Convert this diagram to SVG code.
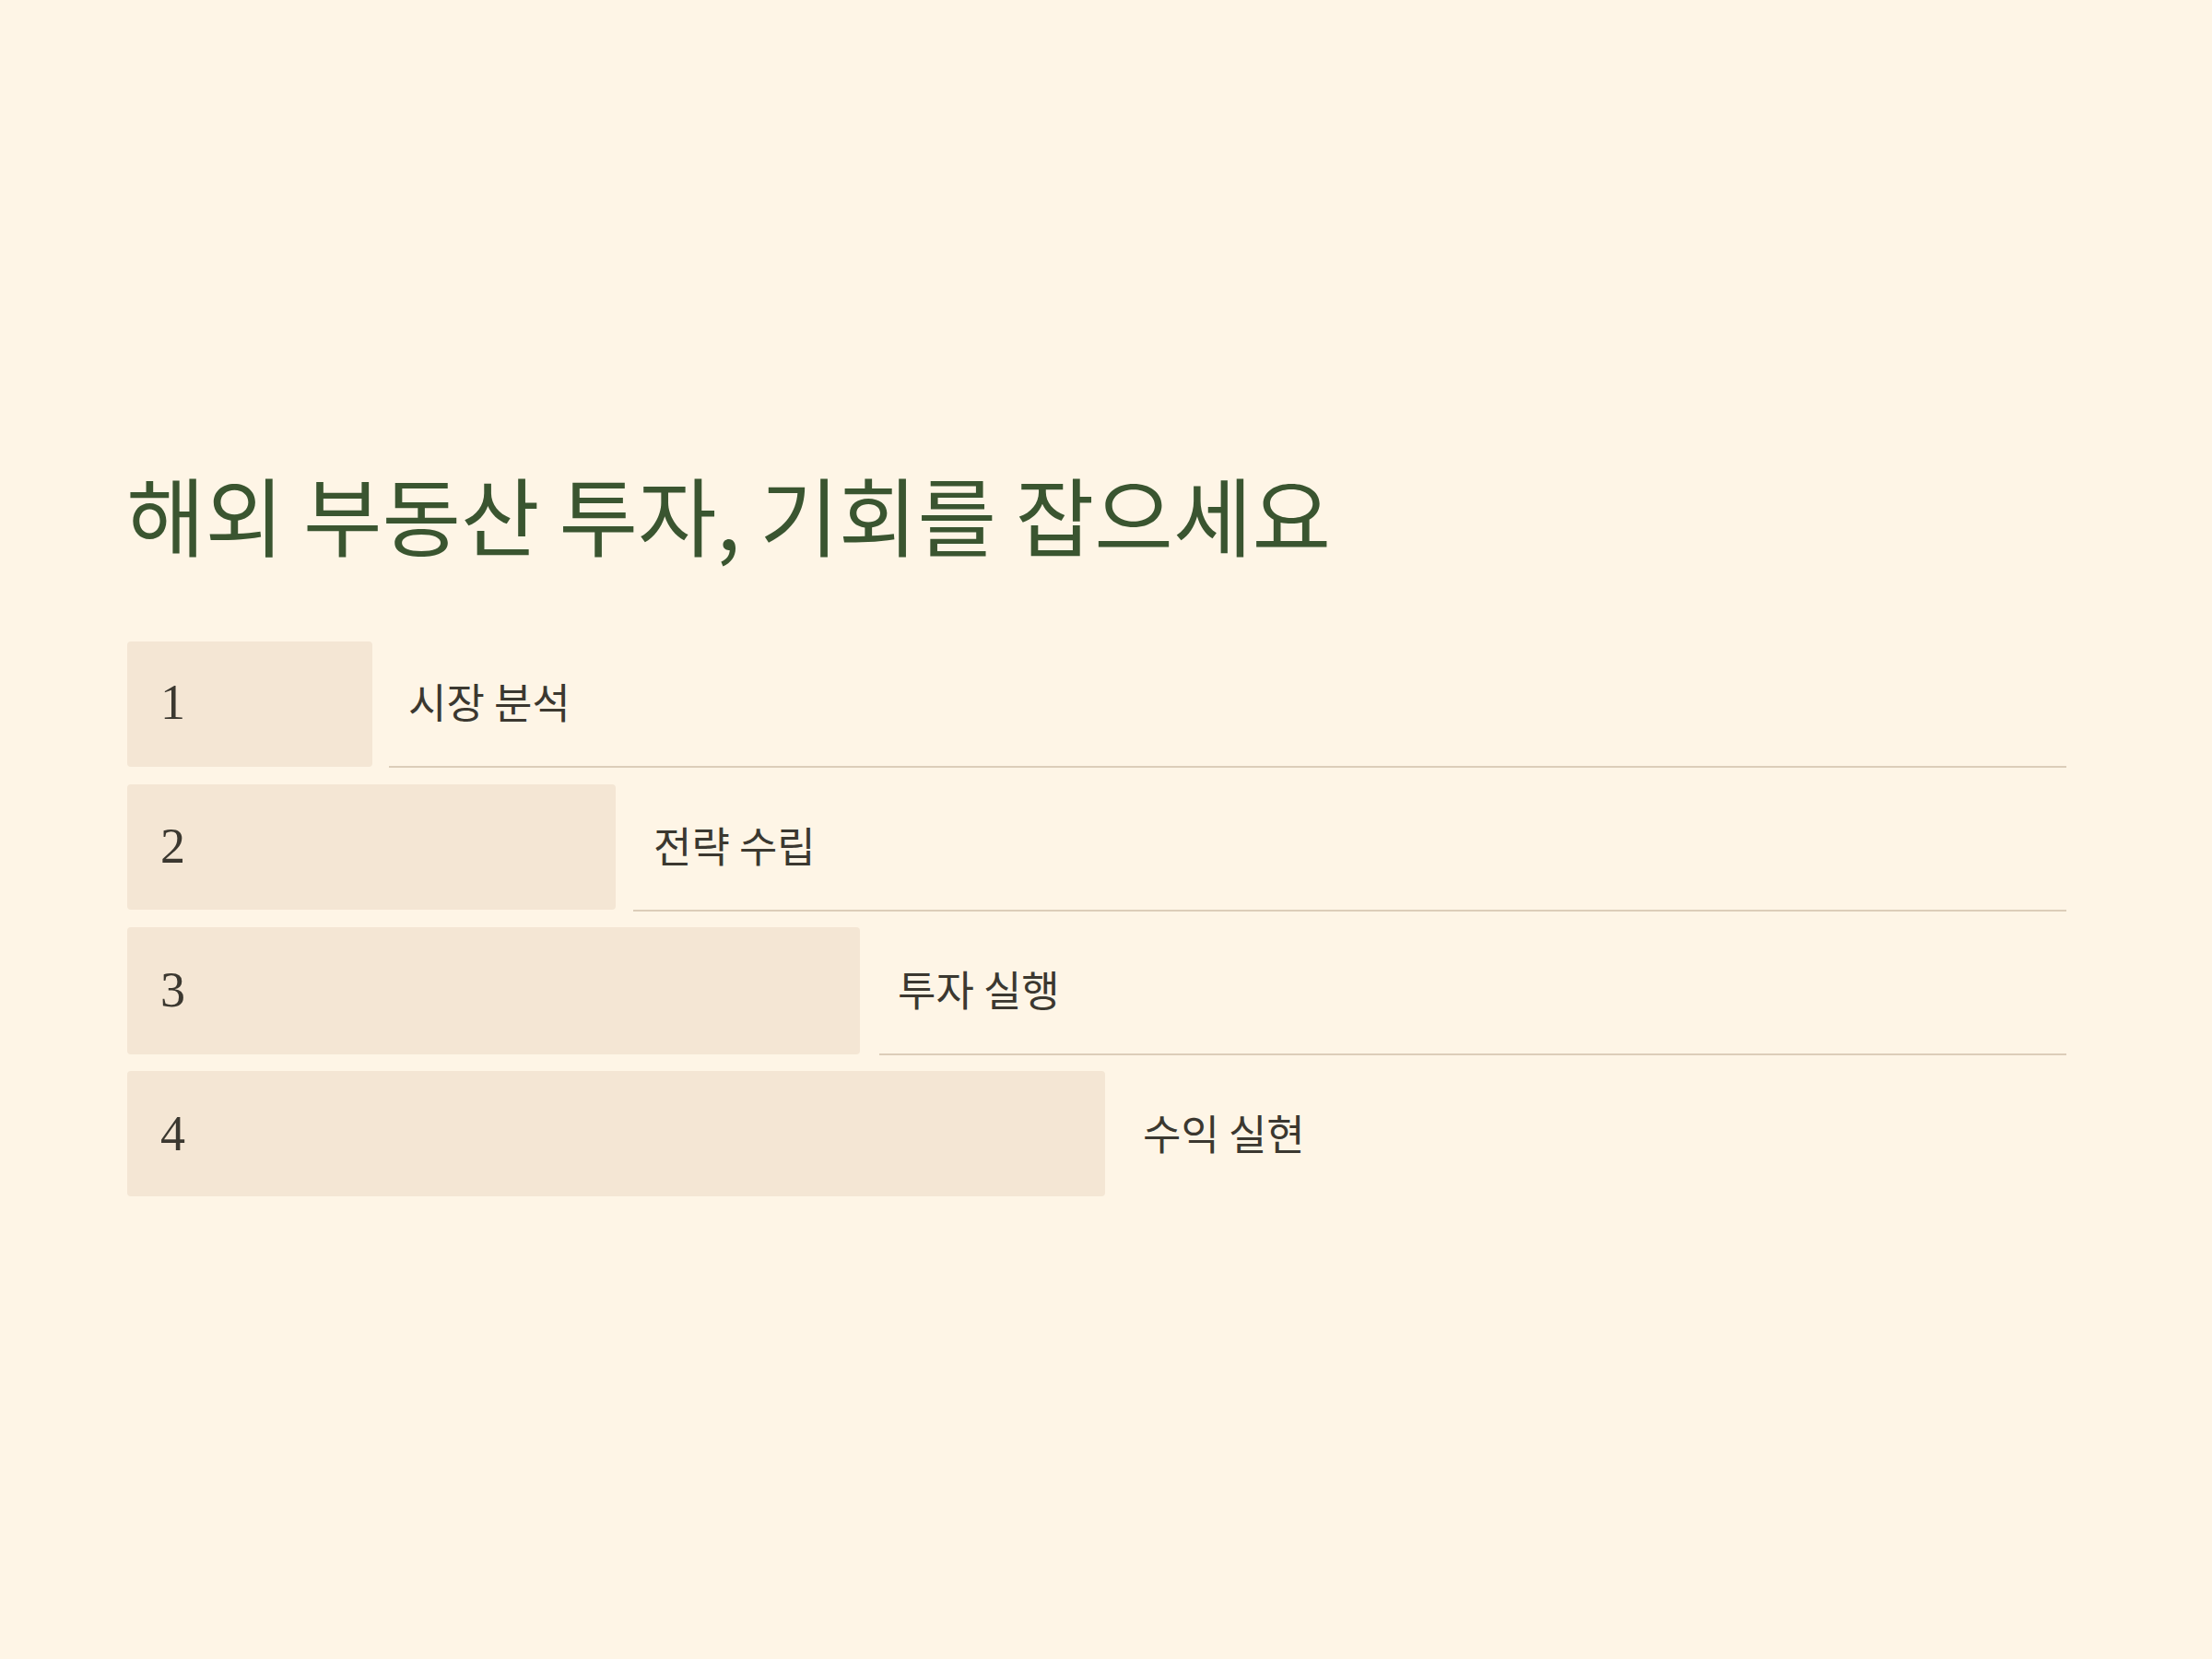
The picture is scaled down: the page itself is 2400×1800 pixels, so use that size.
<svg xmlns="http://www.w3.org/2000/svg" width="2400" height="1800" viewBox="0 0 2400 1800">
<style>
.bg{fill:#fef5e6}
.bar{fill:#f4e6d4}
.num{font-family:"Liberation Serif","DejaVu Serif",serif;font-size:54px;fill:#3b3830}
.lbl{font-family:"Noto Sans CJK KR","Noto Sans",sans-serif;font-size:45px;fill:#3b3830}
.title{font-family:"Noto Sans CJK KR","Noto Sans",sans-serif;font-size:93px;fill:#3a5530}
.sep{stroke:#dccdb9;stroke-width:2}
</style>
<rect class="bg" x="0" y="0" width="2400" height="1800"/>
<text class="title" x="137" y="597">해외 부동산 투자, 기회를 잡으세요</text>
<g id="connectors">
<line class="sep" x1="422" y1="832" x2="2242" y2="832"/>
<line class="sep" x1="687" y1="988" x2="2242" y2="988"/>
<line class="sep" x1="954" y1="1144" x2="2242" y2="1144"/>
</g>
<g id="step1">
<rect class="bar" x="138" y="696" width="266" height="136" rx="4"/>
<text class="num" x="174" y="780">1</text>
<text class="lbl" x="443" y="780">시장 분석</text>
</g>
<g id="step2">
<rect class="bar" x="138" y="851" width="530" height="136" rx="4"/>
<text class="num" x="174" y="936">2</text>
<text class="lbl" x="709" y="936">전략 수립</text>
</g>
<g id="step3">
<rect class="bar" x="138" y="1006" width="795" height="138" rx="4"/>
<text class="num" x="174" y="1092">3</text>
<text class="lbl" x="974" y="1092">투자 실행</text>
</g>
<g id="step4">
<rect class="bar" x="138" y="1162" width="1061" height="136" rx="4"/>
<text class="num" x="174" y="1248">4</text>
<text class="lbl" x="1240" y="1248">수익 실현</text>
</g>
</svg>
